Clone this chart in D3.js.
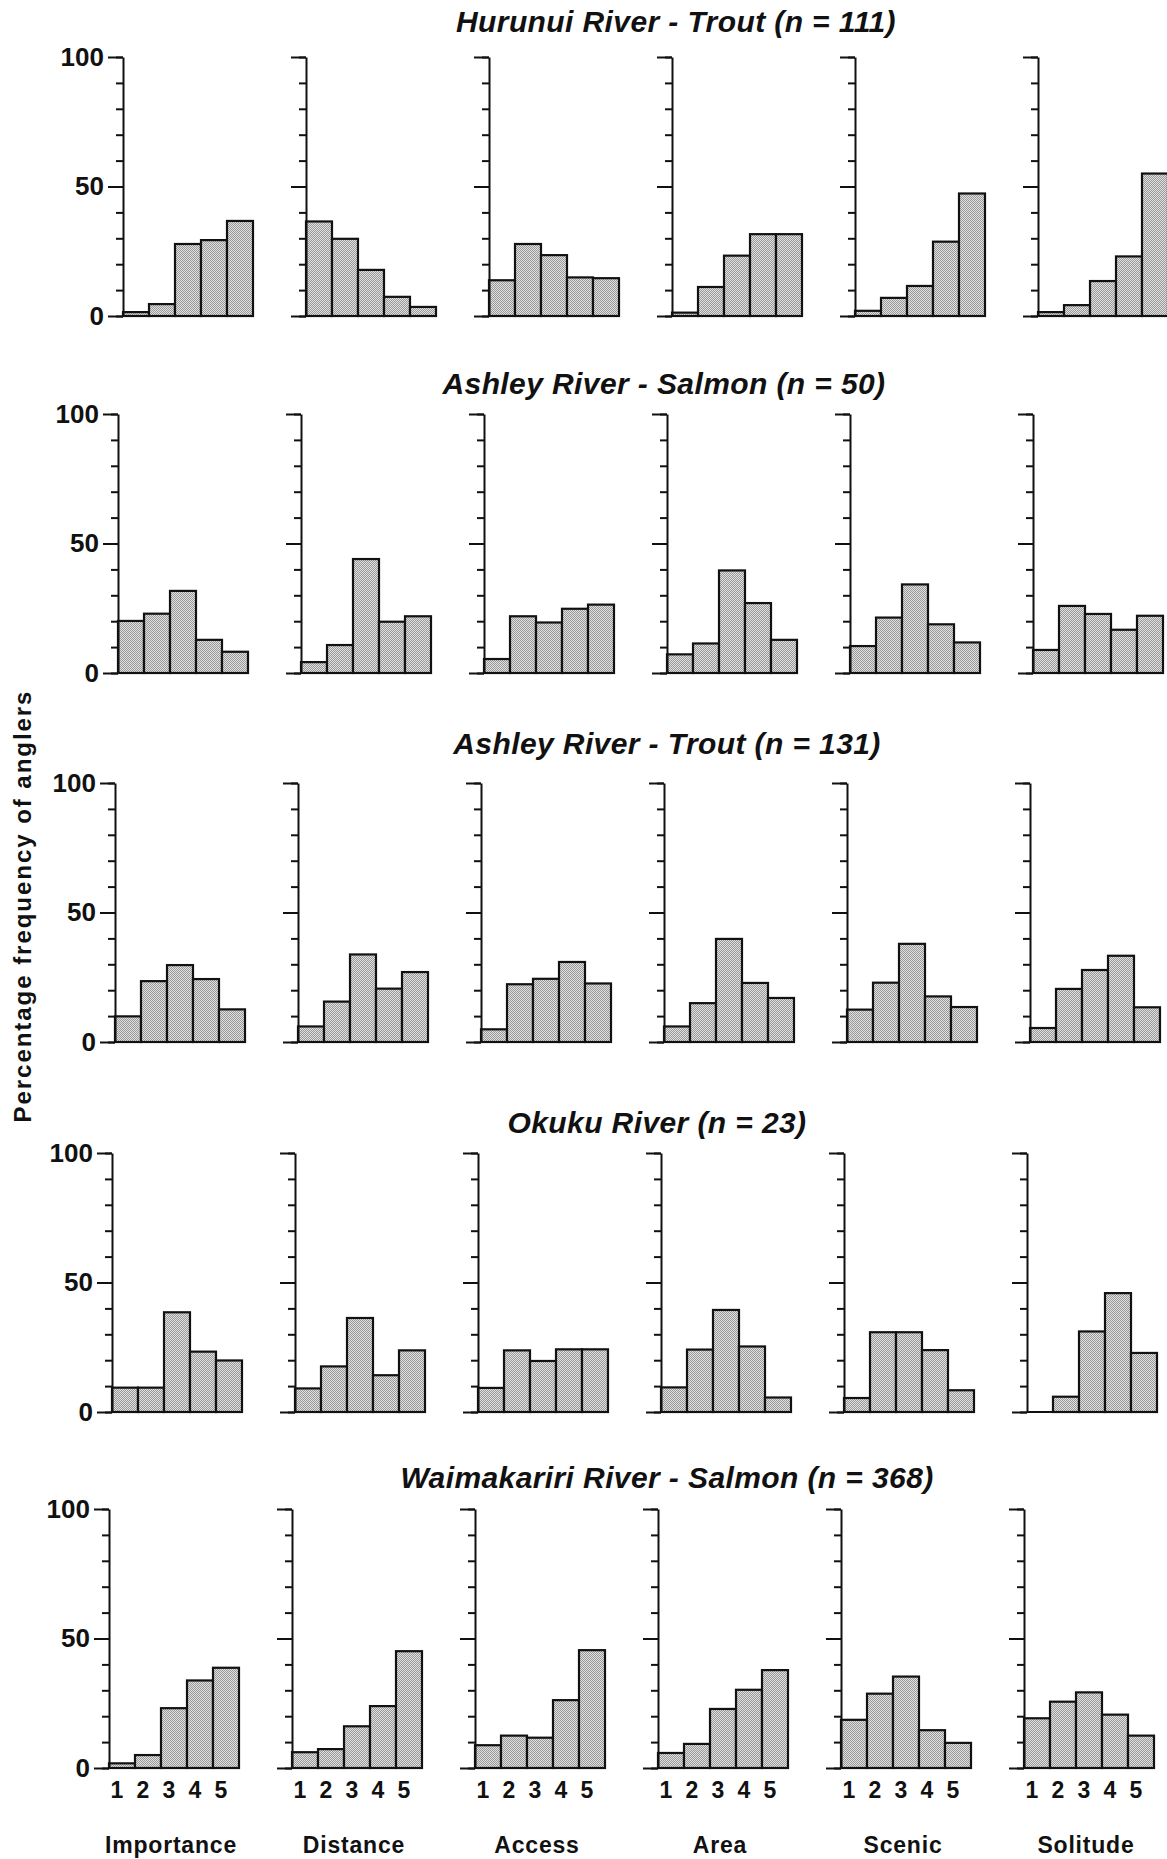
<!DOCTYPE html>
<html>
<head>
<meta charset="utf-8">
<script src="https://cdn.jsdelivr.net/npm/d3@7"></script>
<style>
  html, body { margin: 0; padding: 0; background: #fff; }
  svg { display: block; }
  text { font-family: "Liberation Sans", Arial, Helvetica, sans-serif; fill: #111; }
</style>
</head>
<body>
<script>
// Rating categories (one small histogram per category) and rating scores 1-5
const categories = ["Importance", "Distance", "Access", "Area", "Scenic", "Solitude"];
const scores = [1, 2, 3, 4, 5];
const yTickValues = [0, 50, 100];

// Fishery titles, one per row
const fisheries = [
  "Hurunui River - Trout (n = 111)",
  "Ashley River - Salmon (n = 50)",
  "Ashley River - Trout (n = 131)",
  "Okuku River (n = 23)",
  "Waimakariri River - Salmon (n = 368)"
];

// Percentage frequency of anglers giving each score, per category
const hurunuiTrout = [
  [1.5, 4.6, 27.8, 29.3, 36.7],
  [36.5, 29.8, 17.8, 7.4, 3.5],
  [13.8, 27.8, 23.5, 14.9, 14.6],
  [1.3, 11.2, 23.3, 31.6, 31.6],
  [2.0, 7.0, 11.6, 28.7, 47.3],
  [1.5, 4.2, 13.5, 23.0, 55.0]
];
const ashleySalmon = [
  [20.1, 22.9, 31.7, 12.8, 8.2],
  [4.2, 10.8, 44.0, 19.8, 21.9],
  [5.4, 21.9, 19.5, 24.8, 26.4],
  [7.2, 11.4, 39.6, 27.0, 12.8],
  [10.4, 21.4, 34.2, 18.8, 11.8],
  [8.9, 25.9, 22.8, 16.7, 22.1]
];
const ashleyTrout = [
  [9.9, 23.5, 29.7, 24.3, 12.6],
  [6.0, 15.6, 33.8, 20.6, 27.0],
  [4.9, 22.3, 24.4, 30.9, 22.6],
  [6.0, 15.0, 39.8, 22.8, 17.0],
  [12.5, 22.9, 37.9, 17.6, 13.5],
  [5.4, 20.5, 27.8, 33.3, 13.4]
];
const okuku = [
  [9.4, 9.4, 38.5, 23.3, 19.9],
  [9.1, 17.6, 36.3, 14.2, 23.8],
  [9.3, 23.8, 19.7, 24.2, 24.2],
  [9.5, 24.1, 39.4, 25.3, 5.6],
  [5.4, 30.8, 30.8, 23.9, 8.4],
  [0.0, 5.9, 31.1, 45.9, 22.8]
];
const waimakaririSalmon = [
  [1.8, 5.0, 23.1, 33.8, 38.7],
  [6.1, 7.3, 16.1, 23.9, 45.1],
  [8.8, 12.5, 11.7, 26.2, 45.5],
  [5.8, 9.3, 22.8, 30.2, 37.8],
  [18.6, 28.7, 35.3, 14.6, 9.7],
  [19.2, 25.6, 29.2, 20.6, 12.5]
];
const rowsData = [hurunuiTrout, ashleySalmon, ashleyTrout, okuku, waimakaririSalmon];

// ---- layout ----
const W = 1167, H = 1859;
const rowTop = [57, 414, 783, 1153, 1509];     // y of the 100% tick in each row
const rowLeft = [123, 118, 115, 112, 109];     // x of the first y-axis in each row
const rowTitleY = [32, 394, 754, 1133, 1488];
const rowTitleX = [676, 664, 667, 657, 667];
const colStep = 183;
const plotH = 259;
const plotW = 130;

const svg = d3.select("body").append("svg")
  .attr("width", W).attr("height", H)
  .attr("viewBox", `0 0 ${W} ${H}`);

svg.append("rect").attr("width", W).attr("height", H).attr("fill", "#fff");

// stippled (checker-dot) grey bar fill
const defs = svg.append("defs");
const pat = defs.append("pattern")
  .attr("id", "stipple").attr("patternUnits", "userSpaceOnUse")
  .attr("width", 2).attr("height", 2);
pat.append("rect").attr("width", 2).attr("height", 2).attr("fill", "#e0e0e0");
pat.append("rect").attr("x", 0).attr("y", 0).attr("width", 1).attr("height", 1).attr("fill", "#999");
pat.append("rect").attr("x", 1).attr("y", 1).attr("width", 1).attr("height", 1).attr("fill", "#999");

const y = d3.scaleLinear().domain([0, 100]).range([plotH, 0]);
const x = d3.scaleBand().domain(scores).range([0, plotW]).paddingInner(0).paddingOuter(0);

rowsData.forEach((rowData, r) => {
  // row title
  svg.append("text")
    .attr("x", rowTitleX[r]).attr("y", rowTitleY[r])
    .attr("text-anchor", "middle")
    .style("font-size", "30px").style("font-weight", "bold").style("font-style", "italic")
    .style("letter-spacing", "0.4px")
    .text(fisheries[r]);

  rowData.forEach((vals, c) => {
    const g = svg.append("g")
      .attr("transform", `translate(${rowLeft[r] + c * colStep},${rowTop[r]})`);

    // bars
    g.selectAll("rect.bar").data(vals).join("rect")
      .attr("class", "bar")
      .attr("x", (d, i) => x(scores[i]))
      .attr("width", x.bandwidth())
      .attr("y", d => y(d))
      .attr("height", d => y(0) - y(d))
      .attr("fill", "url(#stipple)")
      .attr("stroke", "#111")
      .attr("stroke-width", 2.2);

    // baseline running under the bars
    g.append("line")
      .attr("x1", 0).attr("x2", plotW)
      .attr("y1", y(0)).attr("y2", y(0))
      .attr("stroke", "#111").attr("stroke-width", 2);

    // minor ticks every 10%
    const minor = g.append("g").call(
      d3.axisLeft(y).tickValues(d3.range(0, 101, 10)).tickSize(7).tickSizeOuter(0).tickFormat("")
    );
    minor.select(".domain").remove();
    minor.selectAll("line").attr("stroke", "#111").attr("stroke-width", 2);

    // major ticks at 0, 50, 100 with the axis line
    const major = g.append("g").call(
      d3.axisLeft(y).tickValues(yTickValues).tickSize(15).tickSizeOuter(0).tickPadding(4)
        .tickFormat(c === 0 ? d3.format("d") : "")
    );
    major.select(".domain").attr("stroke", "#111").attr("stroke-width", 2);
    major.selectAll("line").attr("stroke", "#111").attr("stroke-width", 2);
    major.selectAll("text")
      .style("font-size", "26px").style("font-weight", "bold")
      .attr("fill", "#111");

    // score labels and category names under the bottom row
    if (r === rowsData.length - 1) {
      const xa = g.append("g").attr("transform", `translate(0,${plotH})`)
        .call(d3.axisBottom(x).tickSize(0).tickPadding(14));
      xa.select(".domain").remove();
      xa.selectAll("text")
        .attr("dx", -5)
        .style("font-size", "23px").style("font-weight", "bold")
        .attr("fill", "#111");

      g.append("text")
        .attr("x", plotW / 2 - 3).attr("y", plotH + 85)
        .attr("text-anchor", "middle")
        .style("font-size", "23px").style("font-weight", "bold")
        .style("letter-spacing", "0.8px")
        .text(categories[c]);
    }
  });
});

// shared y-axis title
svg.append("text")
  .attr("transform", "translate(31,907) rotate(-90)")
  .attr("text-anchor", "middle")
  .attr("textLength", 431).attr("lengthAdjust", "spacing")
  .style("font-size", "24px").style("font-weight", "bold")
  .text("Percentage frequency of anglers");
</script>
</body>
</html>
